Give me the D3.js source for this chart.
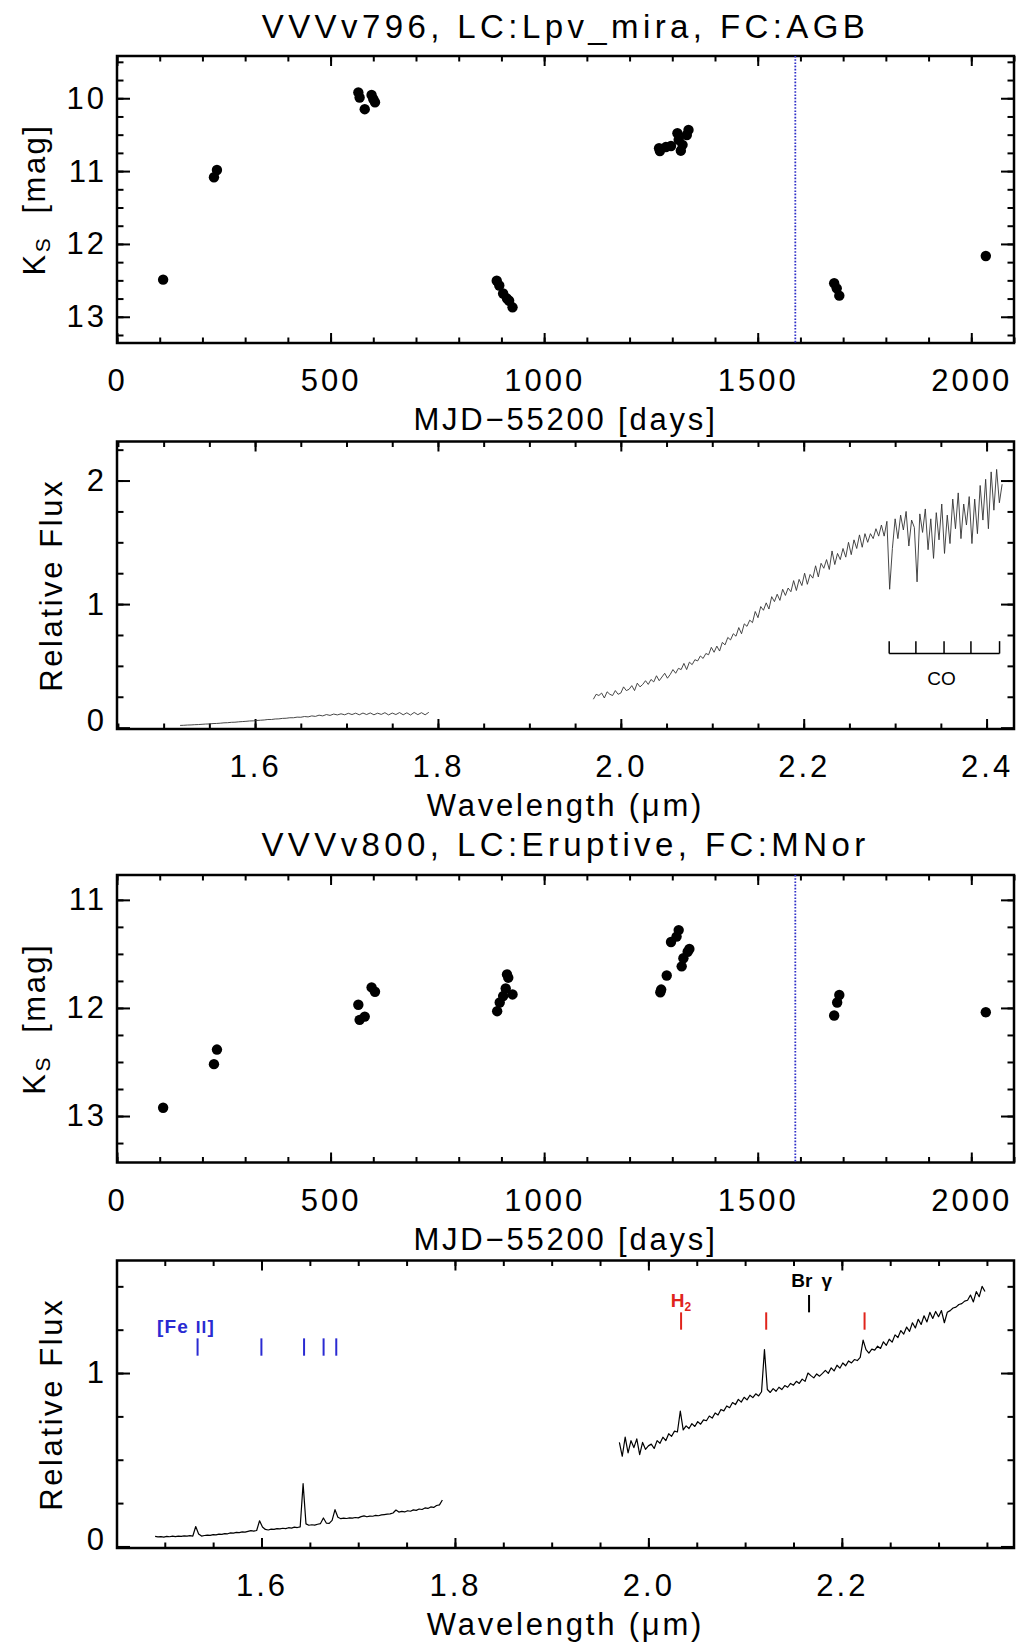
<!DOCTYPE html>
<html>
<head>
<meta charset="utf-8">
<script src="https://cdn.jsdelivr.net/npm/d3@7"></script>
<style>
  body { margin: 0; background: #fff; }
  svg { display: block; font-family: "Liberation Sans", Arial, sans-serif; }
</style>
</head>
<body>
<svg id="chart" width="1016" height="1645"></svg>
<script>
// ---------- data ----------

// light curve of VVVv796 (days since MJD 55200, Ks mag)
const lc796Days = [108, 227, 234, 565, 568, 580, 596, 600, 604, 889, 895, 904, 913, 918, 926,
  1269, 1271, 1285, 1297, 1312, 1315, 1320, 1324, 1334, 1338, 1679, 1685, 1691, 2034];
const lc796Mag = [12.49, 11.085, 10.985, 9.92, 9.99, 10.15, 9.955, 10.01, 10.055, 12.505, 12.57, 12.68, 12.75, 12.78, 12.87,
  10.687, 10.724, 10.67, 10.655, 10.48, 10.57, 10.72, 10.64, 10.505, 10.435, 12.54, 12.61, 12.71, 12.166];

// light curve of VVVv800
const lc800Days = [108, 227, 234, 565, 568, 580, 596, 604, 890, 896, 904, 910, 913, 916, 926,
  1272, 1274, 1287, 1297, 1310, 1315, 1322, 1326, 1336, 1340, 1679, 1686, 1691, 2034];
const lc800Mag = [12.923, 12.52, 12.385, 11.97, 12.11, 12.08, 11.81, 11.85, 12.03, 11.95, 11.89, 11.82, 11.69, 11.72, 11.875,
  11.855, 11.83, 11.70, 11.39, 11.34, 11.28, 11.615, 11.54, 11.48, 11.455, 12.07, 11.95, 11.88, 12.04];

// epoch of the spectrum (dotted line)
const spectrumDay = 1588;

// VVVv796 spectrum, H band piece (wavelength start / step in micron)
const s796HStart = 1.518, s796HStep = 0.004;
const s796HFlux = [0.018, 0.019, 0.021, 0.022, 0.024, 0.025, 0.027, 0.029, 0.030, 0.033,
  0.034, 0.036, 0.039, 0.040, 0.043, 0.044, 0.047, 0.049, 0.051, 0.054,
  0.055, 0.058, 0.060, 0.062, 0.066, 0.066, 0.070, 0.071, 0.075, 0.076,
  0.080, 0.080, 0.085, 0.084, 0.090, 0.087, 0.095, 0.091, 0.101, 0.095,
  0.106, 0.099, 0.110, 0.103, 0.112, 0.104, 0.116, 0.106, 0.117, 0.104,
  0.118, 0.106, 0.119, 0.104, 0.117, 0.107, 0.121, 0.103, 0.118, 0.106,
  0.122, 0.104, 0.120, 0.102, 0.123, 0.105, 0.121, 0.104, 0.124];

// VVVv796 spectrum, K band piece
const s796KStart = 1.970, s796KStep = 0.003;
const s796KFlux = [0.23, 0.27, 0.26, 0.28, 0.24, 0.29, 0.27, 0.26, 0.30, 0.27,
  0.28, 0.33, 0.30, 0.31, 0.34, 0.30, 0.36, 0.33, 0.35, 0.38,
  0.35, 0.39, 0.37, 0.42, 0.38, 0.41, 0.44, 0.40, 0.43, 0.47,
  0.44, 0.48, 0.47, 0.52, 0.47, 0.53, 0.51, 0.55, 0.54, 0.58,
  0.56, 0.60, 0.59, 0.65, 0.61, 0.66, 0.62, 0.69, 0.67, 0.73,
  0.71, 0.76, 0.74, 0.81, 0.76, 0.84, 0.82, 0.87, 0.85, 0.94,
  0.89, 0.98, 0.95, 1.01, 0.96, 1.06, 1.02, 1.08, 1.03, 1.12,
  1.07, 1.13, 1.10, 1.19, 1.11, 1.20, 1.15, 1.25, 1.16, 1.24,
  1.21, 1.31, 1.22, 1.33, 1.29, 1.36, 1.28, 1.43, 1.32, 1.41,
  1.36, 1.45, 1.38, 1.50, 1.40, 1.52, 1.45, 1.56, 1.46, 1.57,
  1.50, 1.57, 1.53, 1.61, 1.55, 1.64, 1.55, 1.67, 1.12, 1.45,
  1.69, 1.53, 1.72, 1.60, 1.75, 1.47, 1.68, 1.62, 1.18, 1.73,
  1.58, 1.77, 1.44, 1.69, 1.37, 1.74, 1.52, 1.81, 1.41, 1.72,
  1.49, 1.85, 1.61, 1.90, 1.53, 1.81, 1.64, 1.87, 1.49, 1.85,
  1.57, 1.96, 1.68, 2.01, 1.61, 2.07, 1.76, 2.09, 1.82, 1.97];

// CO band heads marked under the VVVv796 spectrum
const coHeads = [2.2935, 2.3227, 2.3535, 2.3829, 2.4142];

// VVVv800 spectrum, H band piece
const s800HStart = 1.490, s800HStep = 0.003;
const s800HFlux = [0.058, 0.055, 0.057, 0.054, 0.058, 0.056, 0.059, 0.057, 0.060, 0.058,
  0.061, 0.059, 0.062, 0.060, 0.115, 0.072, 0.060, 0.063, 0.065, 0.064,
  0.068, 0.067, 0.071, 0.070, 0.074, 0.073, 0.078, 0.077, 0.081, 0.080,
  0.084, 0.083, 0.087, 0.091, 0.088, 0.092, 0.148, 0.112, 0.098, 0.095,
  0.100, 0.098, 0.103, 0.101, 0.105, 0.103, 0.108, 0.106, 0.111, 0.109,
  0.113, 0.362, 0.130, 0.122, 0.125, 0.123, 0.128, 0.132, 0.164, 0.135,
  0.133, 0.150, 0.212, 0.168, 0.160, 0.163, 0.161, 0.165, 0.163, 0.167,
  0.165, 0.172, 0.176, 0.171, 0.175, 0.174, 0.179, 0.177, 0.182, 0.184,
  0.186, 0.188, 0.193, 0.210, 0.198, 0.202, 0.199, 0.206, 0.203, 0.211,
  0.208, 0.216, 0.213, 0.222, 0.219, 0.228, 0.225, 0.236, 0.240, 0.268];

// VVVv800 spectrum, K band piece
const s800KStart = 1.970, s800KStep = 0.003;
const s800KFlux = [0.60, 0.52, 0.63, 0.54, 0.61, 0.57, 0.62, 0.53, 0.60, 0.56,
  0.58, 0.59, 0.565, 0.61, 0.595, 0.63, 0.61, 0.65, 0.635, 0.665,
  0.66, 0.78, 0.672, 0.695, 0.68, 0.708, 0.692, 0.72, 0.705, 0.73,
  0.725, 0.752, 0.74, 0.77, 0.758, 0.79, 0.782, 0.81, 0.80, 0.83,
  0.818, 0.848, 0.832, 0.86, 0.845, 0.872, 0.858, 0.88, 0.868, 0.892,
  1.135, 0.905, 0.888, 0.91, 0.895, 0.918, 0.905, 0.928, 0.918, 0.94,
  0.93, 0.952, 0.94, 0.965, 0.952, 1.00, 0.985, 0.972, 0.995, 0.982,
  0.998, 1.015, 0.998, 1.03, 1.012, 1.045, 1.028, 1.058, 1.042, 1.07,
  1.058, 1.078, 1.072, 1.09, 1.19, 1.135, 1.115, 1.138, 1.132, 1.155,
  1.142, 1.18, 1.16, 1.195, 1.178, 1.22, 1.205, 1.245, 1.225, 1.265,
  1.24, 1.29, 1.26, 1.31, 1.28, 1.33, 1.295, 1.35, 1.315, 1.355,
  1.325, 1.36, 1.29, 1.35, 1.36, 1.375, 1.38, 1.395, 1.40, 1.415,
  1.42, 1.45, 1.41, 1.47, 1.44, 1.50, 1.47];

// emission lines marked on the VVVv800 spectrum
const feLines = [1.5339, 1.5999, 1.6440, 1.6642, 1.6773];
const h2Lines = [2.0338, 2.1218, 2.2235];
const brgLine = 2.1661;

// axis ticks
const dayMajor = [0, 500, 1000, 1500, 2000];
const lamMajor796 = [1.6, 1.8, 2.0, 2.2, 2.4];
const lamMajor800 = [1.6, 1.8, 2.0, 2.2];

// ---------- drawing ----------
const svg = d3.select('#chart');
svg.append('rect').attr('width', 1016).attr('height', 1645).attr('fill', '#fff');

const plotLeft = 117, plotRight = 1014;
const plotW = plotRight - plotLeft;
const midX = (plotLeft + plotRight) / 2;

function panel(top, bottom, xDomain, yDomain) {
    const g = svg.append('g').attr('transform', `translate(${plotLeft},${top})`);
    const x = d3.scaleLinear().domain(xDomain).range([0, plotW]);
    const y = d3.scaleLinear().domain(yDomain).range([bottom - top, 0]);
    return {g, x, y, h: bottom - top, top, bottom};
}

function axes(p, o) {
    const {g, x, y, h} = p;
    const clean = sel => {
        sel.attr('font-family', null).attr('font-size', null);
        sel.select('.domain').remove();
        sel.selectAll('line').attr('stroke', '#000').attr('stroke-width', 2);
    };
    const labels = sel => sel.selectAll('text')
        .attr('font-size', 31)
        .attr('letter-spacing', 3)
        .attr('fill', '#000');
    const none = () => '';

    // minor ticks on all four sides
    g.append('g').attr('transform', `translate(0,${h})`)
        .call(d3.axisBottom(x).tickValues(o.xMinor).tickSize(-5.5).tickFormat(none)).call(clean);
    g.append('g')
        .call(d3.axisTop(x).tickValues(o.xMinor).tickSize(-5.5).tickFormat(none)).call(clean);
    g.append('g')
        .call(d3.axisLeft(y).tickValues(o.yMinor).tickSize(-6.5).tickFormat(none)).call(clean);
    g.append('g').attr('transform', `translate(${plotW},0)`)
        .call(d3.axisRight(y).tickValues(o.yMinor).tickSize(-6.5).tickFormat(none)).call(clean);

    // major ticks, labels at bottom and left only
    g.append('g').attr('transform', `translate(0,${h})`)
        .call(d3.axisBottom(x).tickValues(o.xMajor).tickSize(-10).tickPadding(26).tickFormat(o.xFmt))
        .call(clean).call(labels);
    g.append('g')
        .call(d3.axisTop(x).tickValues(o.xMajor).tickSize(-10).tickFormat(none)).call(clean);
    const yl = g.append('g')
        .call(d3.axisLeft(y).tickValues(o.yMajor).tickSize(-13).tickPadding(10).tickFormat(d3.format('d')))
        .call(clean).call(labels);
    // the zero label sits a little above its tick in the original
    yl.selectAll('text').filter(d => d === 0).attr('y', -7);
    g.append('g').attr('transform', `translate(${plotW},0)`)
        .call(d3.axisRight(y).tickValues(o.yMajor).tickSize(-13).tickFormat(none)).call(clean);

    g.append('rect')
        .attr('width', plotW).attr('height', h)
        .attr('fill', 'none').attr('stroke', '#000').attr('stroke-width', 2.5);
}

function title(text, yBase) {
    svg.append('text')
        .attr('x', midX).attr('y', yBase)
        .attr('text-anchor', 'middle')
        .attr('font-size', 33).attr('letter-spacing', 4.4)
        .text(text);
}

function xTitle(p, text) {
    return svg.append('text')
        .attr('x', midX).attr('y', p.bottom + 87)
        .attr('text-anchor', 'middle')
        .attr('font-size', 31).attr('letter-spacing', 2.8)
        .text(text);
}

function ksTitle(p) {
    const t = svg.append('text')
        .attr('transform', `translate(45,${(p.top + p.bottom) / 2}) rotate(-90)`)
        .attr('text-anchor', 'middle')
        .attr('font-size', 31).attr('letter-spacing', 2.5);
    t.append('tspan').text('K');
    t.append('tspan').attr('font-size', 21).attr('dy', 5).text('S');
    t.append('tspan').attr('dy', -5).text('\u00a0\u00a0[mag]');
}

function fluxTitle(p) {
    svg.append('text')
        .attr('transform', `translate(62,${(p.top + p.bottom) / 2}) rotate(-90)`)
        .attr('text-anchor', 'middle')
        .attr('font-size', 31).attr('letter-spacing', 2.6)
        .text('Relative Flux');
}

function lightCurve(p, days, mags) {
    p.g.append('line')
        .attr('x1', p.x(spectrumDay)).attr('x2', p.x(spectrumDay))
        .attr('y1', 0).attr('y2', p.h)
        .attr('stroke', '#2f2fc8').attr('stroke-width', 1.8)
        .attr('stroke-dasharray', '1.6 1.6');
    p.g.selectAll('circle.pt')
        .data(days.map((d, i) => [d, mags[i]]))
        .join('circle')
        .attr('class', 'pt')
        .attr('cx', d => p.x(d[0]))
        .attr('cy', d => p.y(d[1]))
        .attr('r', 5.2)
        .attr('fill', '#000');
}

function spectrum(p, start, step, flux, color, width) {
    const pts = flux.map((f, i) => [start + i * step, f]);
    const line = d3.line().x(d => p.x(d[0])).y(d => p.y(d[1]));
    p.g.append('path')
        .attr('d', line(pts))
        .attr('fill', 'none')
        .attr('stroke', color)
        .attr('stroke-width', width)
        .attr('stroke-linejoin', 'round');
}

function marks(p, lams, lo, hi, color, width) {
    p.g.selectAll(null)
        .data(lams)
        .join('line')
        .attr('x1', d => p.x(d)).attr('x2', d => p.x(d))
        .attr('y1', p.y(lo)).attr('y2', p.y(hi))
        .attr('stroke', color).attr('stroke-width', width);
}

// ---- panel 1: VVVv796 light curve
title('VVVv796, LC:Lpv_mira, FC:AGB', 38);
const p1 = panel(56, 343, [0, 2100], [13.36, 9.42]);
axes(p1, {
    xMajor: dayMajor, xMinor: d3.range(0, 2101, 100), xFmt: d3.format('d'),
    yMajor: [10, 11, 12, 13], yMinor: d3.range(9.5, 13.3, 0.25)
});
lightCurve(p1, lc796Days, lc796Mag);
xTitle(p1, 'MJD\u221255200 [days]');
ksTitle(p1);

// ---- panel 2: VVVv796 spectrum
const p2 = panel(441.5, 729, [1.449, 2.43], [-0.011, 2.316]);
axes(p2, {
    xMajor: lamMajor796, xMinor: d3.range(1.45, 2.43, 0.05), xFmt: d3.format('.1f'),
    yMajor: [0, 1, 2], yMinor: d3.range(0.25, 2.3, 0.25)
});
spectrum(p2, s796HStart, s796HStep, s796HFlux, '#333', 0.9);
spectrum(p2, s796KStart, s796KStep, s796KFlux, '#333', 0.9);
// CO bracket
p2.g.append('line')
    .attr('x1', p2.x(coHeads[0])).attr('x2', p2.x(coHeads[coHeads.length - 1]))
    .attr('y1', p2.y(0.60)).attr('y2', p2.y(0.60))
    .attr('stroke', '#000').attr('stroke-width', 1.5);
marks(p2, coHeads, 0.60, 0.70, '#000', 1.5);
p2.g.append('text')
    .attr('x', p2.x(2.3508)).attr('y', p2.y(0.347))
    .attr('text-anchor', 'middle')
    .attr('font-size', 19)
    .text('CO');
xTitle(p2, 'Wavelength (\u03bcm)');
fluxTitle(p2);

// ---- panel 3: VVVv800 light curve
title('VVVv800, LC:Eruptive, FC:MNor', 856);
const p3 = panel(875, 1162.5, [0, 2100], [13.43, 10.77]);
axes(p3, {
    xMajor: dayMajor, xMinor: d3.range(0, 2101, 100), xFmt: d3.format('d'),
    yMajor: [11, 12, 13], yMinor: d3.range(11, 13.4, 0.25)
});
lightCurve(p3, lc800Days, lc800Mag);
xTitle(p3, 'MJD\u221255200 [days]');
ksTitle(p3);

// ---- panel 4: VVVv800 spectrum
const p4 = panel(1260.5, 1548, [1.4506, 2.378], [-0.009, 1.649]);
axes(p4, {
    xMajor: lamMajor800, xMinor: d3.range(1.5, 2.378, 0.05), xFmt: d3.format('.1f'),
    yMajor: [0, 1], yMinor: d3.range(0.25, 1.6, 0.25)
});
spectrum(p4, s800HStart, s800HStep, s800HFlux, '#000', 1.2);
spectrum(p4, s800KStart, s800KStep, s800KFlux, '#000', 1.2);

marks(p4, feLines, 1.10, 1.20, '#2a2ad2', 2);
marks(p4, h2Lines, 1.25, 1.35, '#e0241c', 2);
marks(p4, [brgLine], 1.35, 1.45, '#000', 2);

const fe = p4.g.append('text')
    .attr('x', p4.x(1.492)).attr('y', p4.y(1.233))
    .attr('font-size', 19).attr('font-weight', 'bold').attr('letter-spacing', 1.2)
    .attr('fill', '#2a2ad2');
fe.append('tspan').text('[Fe ');
fe.append('tspan').attr('font-size', 17).text('II');
fe.append('tspan').text(']');

const h2 = p4.g.append('text')
    .attr('x', p4.x(h2Lines[0])).attr('y', p4.y(1.383))
    .attr('text-anchor', 'middle')
    .attr('font-size', 19).attr('font-weight', 'bold')
    .attr('fill', '#e0241c');
h2.append('tspan').text('H');
h2.append('tspan').attr('font-size', 12).attr('dy', 4).text('2');

const br = p4.g.append('text')
    .attr('x', p4.x(2.1478)).attr('y', p4.y(1.499))
    .attr('font-size', 19).attr('font-weight', 'bold')
    .attr('fill', '#000');
br.append('tspan').text('Br');
br.append('tspan').attr('dx', 9).text('\u03b3');

xTitle(p4, 'Wavelength (\u03bcm)');
fluxTitle(p4);
</script>
</body>
</html>
